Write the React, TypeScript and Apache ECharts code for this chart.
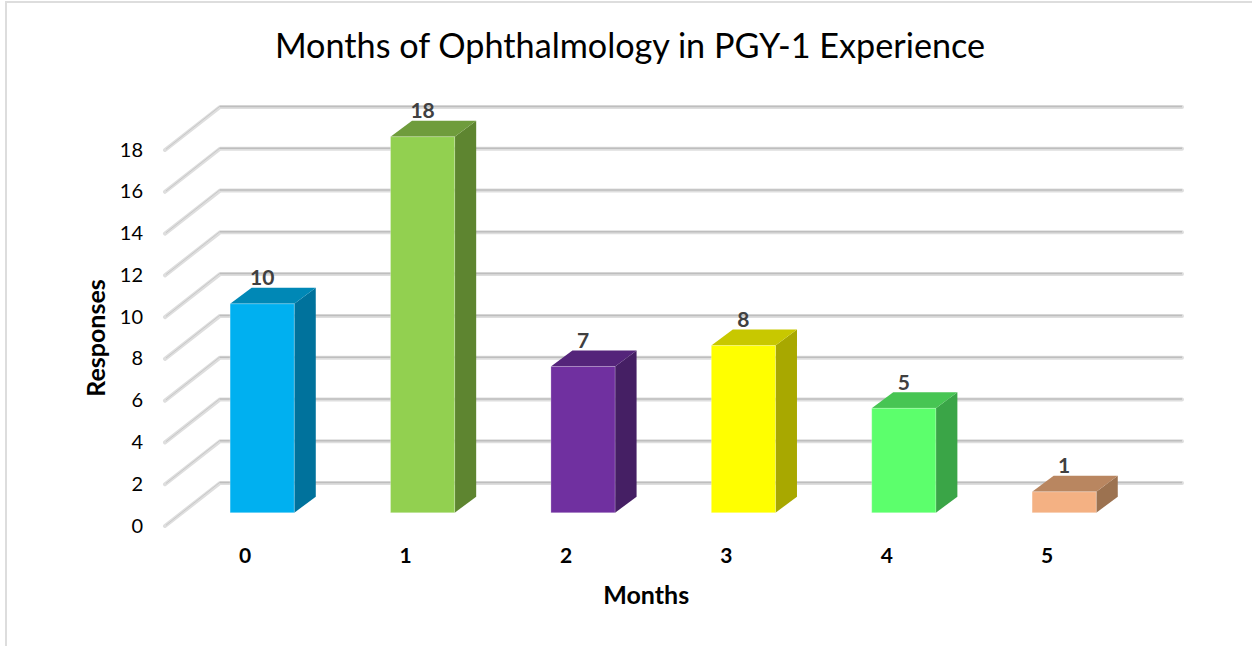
import React, { useEffect, useRef } from "react";
import * as echarts from "echarts";

const months = ["0", "1", "2", "3", "4", "5"];
const responses = [10, 18, 7, 8, 5, 1];
const gridTicks = [0, 2, 4, 6, 8, 10, 12, 14, 16, 18];
const frontColors = ["#00B0F0", "#92D050", "#7030A0", "#FFFF00", "#5CFF6C", "#F4B183"];
const topColors = ["#0088B6", "#6F9C3C", "#54247A", "#C8C800", "#47C553", "#B98660"];
const sideColors = ["#00729C", "#5E8530", "#451F64", "#A8A800", "#3AA547", "#9C7250"];

const WALL_DX = 55;
const WALL_DY = 43;
const WALL_RIGHT = 1182;
const BAR_DX = 17;
const BAR_DY = 13.3;
const DEPTH_X = 21.5;
const DEPTH_Y = 16;
const FONT = "Lato, Carlito, sans-serif";

export default function App() {
  const ref = useRef<HTMLDivElement>(null);
  useEffect(() => {
    document.body.style.margin = "0";
    const chart = echarts.init(ref.current!, null, { renderer: "svg" });
    chart.setOption({
      animation: false,
      backgroundColor: "#fff",
      title: {
        text: "Months of Ophthalmology in PGY-1 Experience",
        left: 625,
        top: 22,
        textAlign: "center",
        textStyle: { fontFamily: FONT, fontSize: 34.2, fontWeight: "normal", color: "#000" },
      },
      graphic: [
        { type: "line", silent: true, shape: { x1: 5, y1: 2, x2: 1252, y2: 2 }, style: { stroke: "#DDD", lineWidth: 2 } },
        { type: "line", silent: true, shape: { x1: 6, y1: 2, x2: 6, y2: 646 }, style: { stroke: "#DDD", lineWidth: 2 } },
      ],
      grid: { left: 165, top: 150, width: 962.4, height: 376 },
      xAxis: {
        type: "category",
        data: months,
        name: "Months",
        nameLocation: "middle",
        nameGap: 55,
        nameTextStyle: { fontFamily: FONT, fontSize: 25, fontWeight: "bold", color: "#000" },
        axisLine: { show: false },
        axisTick: { show: false },
        axisLabel: { margin: 18, fontFamily: FONT, fontSize: 21, fontWeight: "bold", color: "#000" },
      },
      yAxis: {
        type: "value",
        min: 0,
        max: 18,
        interval: 2,
        name: "Responses",
        nameLocation: "middle",
        nameGap: 58,
        nameTextStyle: { fontFamily: FONT, fontSize: 25, fontWeight: "bold", color: "#000" },
        axisLine: { show: false },
        axisTick: { show: false },
        splitLine: { show: false },
        axisLabel: {
          margin: 22,
          formatter: "{t|{value}}",
          rich: { t: { padding: [0, 0, 3, 0], fontFamily: FONT, fontSize: 20, color: "#000" } },
        },
      },
      series: [
        {
          type: "custom",
          z: 1,
          silent: true,
          clip: false,
          data: gridTicks.map((t) => [0, t]),
          renderItem: (params: any, api: any) => {
            const y = api.coord([0, api.value(1)])[1];
            const x0 = params.coordSys.x;
            const xb = x0 + WALL_DX;
            const yb = y - WALL_DY;
            return {
              type: "group",
              children: [
                { type: "polyline", shape: { points: [[x0, y], [xb, yb], [WALL_RIGHT, yb]] }, style: { fill: "none", stroke: "#DEDEDE", lineWidth: 4, lineCap: "round", lineJoin: "round" } },
                { type: "polyline", shape: { points: [[x0 + 1, y - 0.8], [xb, yb - 0.8]] }, style: { fill: "none", stroke: "#C8C8C8", lineWidth: 1 } },
                { type: "line", shape: { x1: xb, y1: yb - 0.5, x2: WALL_RIGHT, y2: yb - 0.5 }, style: { stroke: "#BEBEBE", lineWidth: 1.5 } },
              ],
            };
          },
        },
        {
          type: "custom",
          z: 2,
          silent: true,
          clip: false,
          data: responses.map((v, i) => [i, v]),
          encode: { x: 0, y: 1 },
          renderItem: (params: any, api: any) => {
            const i = params.dataIndex;
            const top = api.coord([api.value(0), api.value(1)]);
            const base = api.coord([api.value(0), 0]);
            const w = api.size([1, 0])[0] * 0.4;
            const xl = top[0] + BAR_DX - w / 2;
            const xr = xl + w;
            const yt = top[1] - BAR_DY;
            const yb = base[1] - BAR_DY;
            return {
              type: "group",
              children: [
                { type: "polygon", shape: { points: [[xr, yt], [xr + DEPTH_X, yt - DEPTH_Y], [xr + DEPTH_X, yb - DEPTH_Y], [xr, yb]] }, style: { fill: sideColors[i] } },
                { type: "polygon", shape: { points: [[xl, yt], [xl + DEPTH_X, yt - DEPTH_Y], [xr + DEPTH_X, yt - DEPTH_Y], [xr, yt]] }, style: { fill: topColors[i] } },
                { type: "rect", shape: { x: xl, y: yt, width: w, height: yb - yt }, style: { fill: frontColors[i], stroke: "rgba(255,255,255,0.25)", lineWidth: 1 } },
                {
                  type: "text",
                  x: xl + w / 2,
                  y: yt - 27,
                  style: { text: String(api.value(1)), fontFamily: FONT, fontSize: 21, fontWeight: "bold", fill: "#404040", align: "center", verticalAlign: "middle" },
                },
              ],
            };
          },
        },
      ],
    });
    return () => chart.dispose();
  }, []);
  return <div ref={ref} style={{ width: 1252, height: 646 }} />;
}
